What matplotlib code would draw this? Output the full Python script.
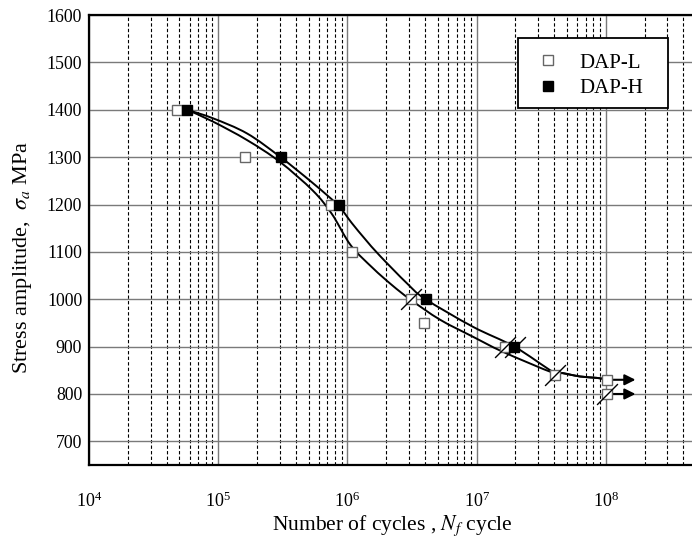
import numpy as np
import matplotlib
matplotlib.use("Agg")
import matplotlib.pyplot as plt
from matplotlib.path import Path
from matplotlib.patches import PathPatch, Rectangle
from matplotlib.ticker import LogLocator, LogFormatterSciNotation, NullFormatter

plt.rcParams["font.family"] = ["Liberation Serif", "DejaVu Serif"]
plt.rcParams["mathtext.fontset"] = "stix"

# test points
dap_l_n = [4.8e4, 1.6e5, 7.5e5, 1.08e6, 3.1e6, 3.95e6, 1.66e7, 4.05e7, 1.02e8, 1.02e8]
dap_l_s = [1400, 1300, 1200, 1100, 1000, 950, 900, 840, 830, 800]
dap_h_n = [5.7e4, 3.05e5, 8.6e5, 4.05e6, 1.95e7]
dap_h_s = [1400, 1300, 1200, 1000, 900]

# slashed points and run-outs
slash_n = [3.1e6, 1.66e7, 1.98e7, 4.05e7, 1.02e8]
slash_s = [1000, 900, 900, 840, 800]
runout_n = [1.02e8, 1.02e8]
runout_s = [830, 800]
runout_end = 1.7e8

# fitted curves
curve_h_n = [5.73e4, 9.1e4, 1.67e5, 3.0e5, 5.41e5, 8.4e5, 1.08e6, 1.37e6, 1.78e6,
             2.88e6, 3.98e6, 9.35e6, 1.96e7, 3.89e7, 4.65e7, 6.3e7, 8.53e7, 1.0e8]
curve_h_s = [1400, 1382, 1350, 1301, 1245, 1199, 1161, 1127, 1092,
             1034, 1001, 942, 900, 847, 844, 837, 834, 831]
curve_l_n = [5.73e4, 9.1e4, 1.67e5, 3.0e5, 5.41e5, 7.58e5, 1.06e6, 1.57e6, 2.21e6,
             3.05e6, 5.2e6, 9.35e6, 1.6e7, 3.89e7, 4.65e7, 6.3e7, 8.53e7, 1.0e8]
curve_l_s = [1400, 1375, 1336, 1290, 1229, 1180, 1114, 1066, 1030,
             1000, 957, 921, 889, 845, 844, 837, 834, 831]


def smooth_path(ns, ss):
    # Catmull-Rom through the traced points, done in log(N) space
    pts = np.column_stack([np.log10(ns), np.asarray(ss, dtype=float)])
    verts, codes = [pts[0]], [Path.MOVETO]
    for i in range(len(pts) - 1):
        p0 = pts[max(i - 1, 0)]
        p1, p2 = pts[i], pts[i + 1]
        p3 = pts[min(i + 2, len(pts) - 1)]
        verts += [p1 + (p2 - p0) / 6, p2 - (p3 - p1) / 6, p2]
        codes += [Path.CURVE4] * 3
    verts = np.array(verts)
    verts[:, 0] = 10 ** verts[:, 0]
    return Path(verts, codes)


fig = plt.figure(figsize=(6.92, 5.37), dpi=100)
ax = fig.add_axes([0.1288, 0.134, 0.877, 0.838])
ax.set_xscale("log")
ax.set_xlim(1e4, 5e8)
ax.set_ylim(650, 1600)

ax.xaxis.set_major_locator(LogLocator(base=10, numticks=10))
ax.xaxis.set_minor_locator(LogLocator(base=10, subs=np.arange(2, 10), numticks=20))
ax.xaxis.set_major_formatter(LogFormatterSciNotation())
ax.xaxis.set_minor_formatter(NullFormatter())
ax.set_yticks(np.arange(700, 1601, 100))

ax.grid(True, which="major", axis="both", color="#7a7a7a", lw=1.0, ls="-")
ax.grid(True, which="minor", axis="x", color="black", lw=0.8, ls=(0, (3, 2)))
ax.set_axisbelow(True)
ax.tick_params(which="both", length=0)
ax.tick_params(axis="x", pad=19, labelsize=13)
ax.tick_params(axis="y", pad=5, labelsize=12.8)
for sp in ax.spines.values():
    sp.set_linewidth(1.6)

for cn, cs in [(curve_h_n, curve_h_s), (curve_l_n, curve_l_s)]:
    ax.add_patch(PathPatch(smooth_path(cn, cs), fill=False, lw=1.4,
                           edgecolor="black", zorder=3))

for n, s in zip(runout_n, runout_s):
    ax.annotate("", xy=(runout_end, s), xytext=(n, s), zorder=4,
                arrowprops=dict(arrowstyle="-|>", color="black", lw=1.5,
                                mutation_scale=16, shrinkA=0, shrinkB=0))

ax.plot(dap_l_n, dap_l_s, ls="none", marker="s", ms=7.5, mfc="white",
        mec="#666666", mew=1.0, zorder=5, label="DAP-L")
ax.plot(dap_h_n, dap_h_s, ls="none", marker="s", ms=7.5, mfc="black",
        mec="black", zorder=6, label="DAP-H")

slash = Path([(-1, -1), (1, 1)], [Path.MOVETO, Path.LINETO])
ax.plot(slash_n, slash_s, ls="none", marker=slash, ms=15, mec="black",
        mew=1.0, zorder=7)

# legend box drawn by hand so its size matches
ax.add_patch(Rectangle((0.7063, 0.7933), 0.2471, 0.1556, transform=ax.transAxes,
                       facecolor="white", edgecolor="black", lw=1.3, zorder=8))
leg = ax.legend(loc="center left", bbox_to_anchor=(0.7063, 0.865), fontsize=15,
                frameon=False, borderaxespad=0, borderpad=0.9,
                handlelength=1.1, handletextpad=0.95, labelspacing=0.3)
leg.set_zorder(9)

ax.set_xlabel("Number of cycles , $N_f$ cycle", fontsize=15.5, labelpad=2)
ax.set_ylabel("Stress amplitude,  $\\sigma_a$ MPa", fontsize=16, labelpad=9)
ax.yaxis.label.set_y(0.462)

fig.savefig("out.png", dpi=100)
